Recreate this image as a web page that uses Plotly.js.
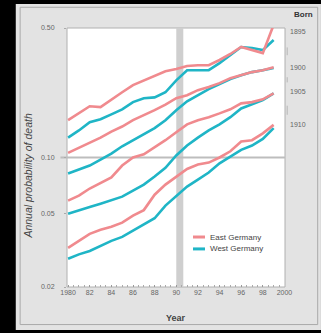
<!DOCTYPE html>
<html><head><meta charset="utf-8">
<script src="https://cdn.plot.ly/plotly-3.0.1.min.js"></script>
<style>html,body{margin:0;padding:0;background:#000;}#chart{width:321px;height:333px;}</style>
</head><body><div id="chart"></div>
<script>
const years = [1980,1981,1982,1983,1984,1985,1986,1987,1988,1989,1990,1991,1992,1993,1994,1995,1996,1997,1998,1999];
const cohorts = ["1895","1900","1905","1910"];
const east1895 = [0.159,0.173,0.189,0.187,0.204,0.225,0.246,0.261,0.278,0.292,0.300,0.312,0.315,0.315,0.336,0.362,0.395,0.380,0.366,0.52];
const west1895 = [0.128,0.140,0.155,0.161,0.171,0.182,0.199,0.209,0.211,0.225,0.261,0.296,0.296,0.296,0.323,0.358,0.395,0.390,0.380,0.431];
const east1900 = [0.106,0.113,0.121,0.128,0.138,0.147,0.159,0.169,0.180,0.193,0.209,0.217,0.231,0.240,0.252,0.268,0.278,0.289,0.296,0.307];
const west1900 = [0.082,0.086,0.0905,0.0975,0.105,0.115,0.124,0.133,0.144,0.159,0.180,0.201,0.217,0.234,0.249,0.265,0.278,0.289,0.296,0.304];
const east1905 = [0.0585,0.0622,0.068,0.0732,0.078,0.0905,0.100,0.104,0.113,0.124,0.137,0.151,0.159,0.165,0.173,0.182,0.196,0.199,0.206,0.222];
const west1905 = [0.0497,0.052,0.054,0.0563,0.059,0.0615,0.0663,0.0714,0.079,0.088,0.1025,0.116,0.128,0.140,0.151,0.165,0.184,0.194,0.204,0.222];
const east1910 = [0.0325,0.0355,0.0387,0.0407,0.0423,0.0445,0.0485,0.052,0.063,0.0714,0.079,0.0867,0.0916,0.0939,0.100,0.108,0.122,0.124,0.135,0.150];
const west1910 = [0.0284,0.030,0.0313,0.0333,0.0355,0.0373,0.0402,0.0433,0.047,0.055,0.0622,0.0697,0.076,0.083,0.093,0.101,0.110,0.116,0.126,0.144];
const seriesNames = ["East Germany","West Germany"];
const yTickVals = [0.02,0.05,0.10,0.50];
const yTickText = ["0.02","0.05","0.10","0.50"];
const xTickVals = [1980,1982,1984,1986,1988,1990,1992,1994,1996,1998,2000];
const xTickText = ["1980","82","84","86","88","90","92","94","96","98","2000"];
const reunification = 1990;

const EAST = "#f08a8e", WEST = "#1fb5c6";
const eastSeries = [east1895,east1900,east1905,east1910];
const westSeries = [west1895,west1900,west1905,west1910];
const traces = [];
westSeries.forEach((s,i)=>traces.push({x:years,y:s,type:"scatter",mode:"lines",
  line:{color:WEST,width:2.6},name:seriesNames[1]+" "+cohorts[i],showlegend:false,hoverinfo:"skip"}));
eastSeries.forEach((s,i)=>traces.push({x:years,y:s,type:"scatter",mode:"lines",
  line:{color:EAST,width:2.6},name:seriesNames[0]+" "+cohorts[i],showlegend:false,hoverinfo:"skip"}));

const labelY = [0.985,0.849,0.753,0.629];
const annotations = [{xref:"paper",yref:"paper",x:1.03,y:1.052,xanchor:"left",yanchor:"middle",
  text:"<b>Born</b>",showarrow:false,font:{size:8,color:"#333"}}];
cohorts.forEach((c,i)=>annotations.push({xref:"paper",yref:"paper",x:1.012,y:labelY[i],xanchor:"left",yanchor:"middle",
  text:c,showarrow:false,font:{size:7,color:"#666"}}));
// custom legend
const legColors = [EAST,WEST];
const legY = [0.193,0.147];
seriesNames.forEach((n,i)=>annotations.push({xref:"paper",yref:"paper",x:0.645,y:legY[i],xanchor:"left",yanchor:"middle",
  text:n,showarrow:false,font:{size:8,color:"#444"}}));
// axis titles
annotations.push({xref:"paper",yref:"paper",x:0.5,y:-0.12,xanchor:"center",yanchor:"middle",
  text:"<b>Year</b>",showarrow:false,font:{size:9,color:"#444"}});
annotations.push({xref:"paper",yref:"paper",x:-0.179,y:0.43,xanchor:"center",yanchor:"middle",textangle:-90,
  text:"<i>Annual probability of death</i>",showarrow:false,font:{size:10.5,color:"#444"}});

const shapes = [
  {type:"rect",xref:"paper",yref:"paper",x0:-0.235,x1:1.165,y0:-0.166,y1:1.093,fillcolor:"#e3e3e3",line:{width:0},layer:"below"},
  {type:"rect",xref:"paper",yref:"paper",x0:-0.215,x1:1.15,y0:-0.145,y1:1.08,fillcolor:"rgba(0,0,0,0)",line:{color:"#a9a9a9",width:1},layer:"below"},
  {type:"rect",xref:"paper",yref:"paper",x0:0,x1:1,y0:0,y1:1,fillcolor:"#ffffff",line:{color:"#b0b0b0",width:1},layer:"below"},
  {type:"rect",xref:"x",yref:"paper",x0:reunification,x1:reunification+0.65,y0:0,y1:1,fillcolor:"#cfcfcf",line:{width:0},layer:"below"},
  {type:"line",xref:"paper",yref:"y",x0:-0.03,x1:1,y0:0.1,y1:0.1,line:{color:"#bdbdbd",width:2},layer:"below"},
  {type:"line",xref:"paper",yref:"paper",x0:1.01,x1:1.01,y0:0.895,y1:0.925,line:{color:"#b5b5b5",width:1}},
  {type:"line",xref:"paper",yref:"paper",x0:1.01,x1:1.01,y0:0.79,y1:0.81,line:{color:"#b5b5b5",width:1}},
  {type:"line",xref:"paper",yref:"paper",x0:1.01,x1:1.01,y0:0.665,y1:0.7,line:{color:"#b5b5b5",width:1}}
];
legColors.forEach((c,i)=>shapes.push({type:"line",xref:"paper",yref:"paper",x0:0.578,x1:0.633,y0:legY[i],y1:legY[i],
  line:{color:c,width:3}}));

const layout = {
  width:321,height:333,
  margin:{l:67,r:36,t:28,b:46},
  paper_bgcolor:"#000000",plot_bgcolor:"rgba(0,0,0,0)",
  font:{family:"Liberation Sans, Arial, sans-serif",color:"#555"},
  showlegend:false,
  xaxis:{range:[1979.9,2000.05],tickvals:xTickVals,ticktext:xTickText,showgrid:false,zeroline:false,
    ticks:"inside",ticklen:2,tickcolor:"#999",tickfont:{size:7,color:"#666"},
    minor:{dtick:0.5,ticks:"inside",ticklen:2,tickcolor:"#aaa",showgrid:false},
    showline:false},
  yaxis:{type:"log",range:[Math.log10(0.02),Math.log10(0.5)],tickvals:yTickVals,ticktext:yTickText,
    showgrid:false,zeroline:false,ticks:"outside",ticklen:2,tickcolor:"#aaa",tickfont:{size:7,color:"#666"},
    ticklabelstandoff:8,showline:false},
  shapes:shapes,annotations:annotations
};
Plotly.newPlot("chart",traces,layout,{staticPlot:true,displayModeBar:false});
</script></body></html>
